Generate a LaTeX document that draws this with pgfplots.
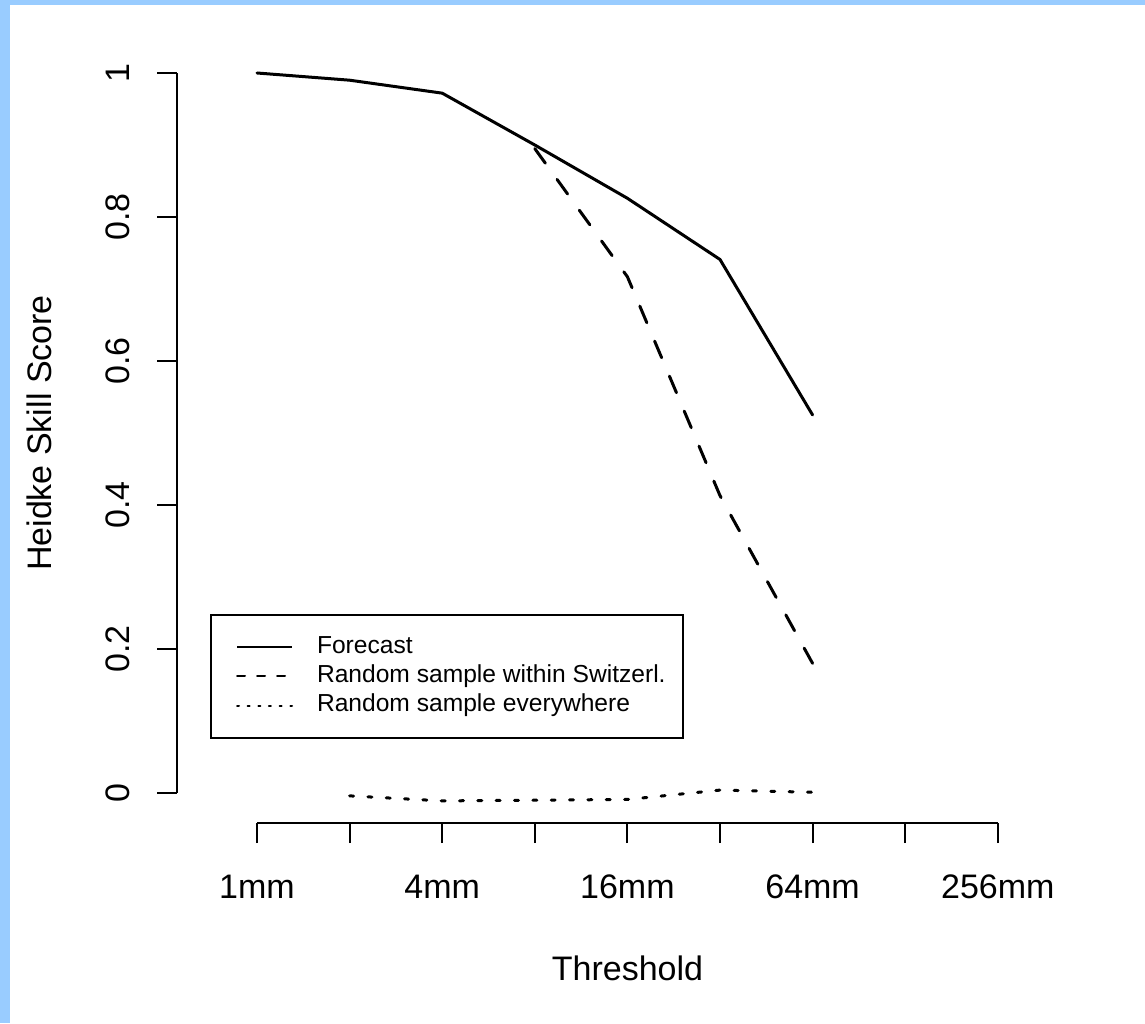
\documentclass[border=0pt]{standalone}
\usepackage{fontspec}
\setmainfont{Liberation Sans}
\usepackage{pgfplots}
\pgfplotsset{compat=1.18}
\definecolor{frameblue}{RGB}{153,204,255}

\begin{document}
\begin{tikzpicture}[x=1pt,y=1pt]
% page background with the light blue frame on the left and top
\fill[frameblue] (0,0) rectangle (572.5,511.5);
\fill[white] (5,0) rectangle (572.5,509);
\begin{axis}[
  at={(88.5pt,100pt)}, anchor=south west,
  scale only axis, width=425.3pt, height=389.4pt,
  xmin=-0.864, xmax=8.322, ymin=-0.0417, ymax=1.04,
  separate axis lines,
  x axis line style={draw=none}, y axis line style={draw=none},
  clip=false,
  tick pos=left,
  tick align=outside, major tick length=10pt,
  tick style={black, line width=1pt},
  xtick={0,...,8}, xticklabels={1mm,,4mm,,16mm,,64mm,,256mm},
  ytick={0,0.2,0.4,0.6,0.8,1}, yticklabels={0,0.2,0.4,0.6,0.8,1},
  /pgf/number format/assume math mode=true,
  ticklabel style={font=\fontsize{17}{20}\selectfont},
  xticklabel style={anchor=base, yshift=-27.5pt},
  yticklabel style={rotate=90, anchor=base, yshift=13.5pt},
  xlabel={Threshold}, ylabel={Heidke Skill Score},
  label style={font=\fontsize{17}{20}\selectfont},
  xlabel style={at={(axis description cs:0.5296,-0.2016)}, anchor=base},
  ylabel style={at={(axis description cs:-0.1481,0.5008)}, anchor=base, rotate=0},
  legend image code/.code={\path (-12.5pt,0pt) (0pt,0pt); \draw[#1] (0pt,0pt) -- (27.5pt,0pt);},
  legend cell align=left,
  legend style={at={(axis description cs:0.0388,0.2684)}, anchor=north west,
    draw=black, line width=1pt, inner xsep=0pt, inner ysep=10.4pt,
    font=\fontsize{12.3}{14}\selectfont, row sep=3.25pt, column sep=3.5pt,
    nodes={inner xsep=8.5pt, inner ysep=0pt, text height=8.8pt, text depth=2.6pt}},
]
% axis lines span only the tick range
\draw[line width=1pt] (axis cs:-0.864,0) -- (axis cs:-0.864,1);
\draw[line width=1pt] (axis cs:0,-0.0417) -- (axis cs:8,-0.0417);

\addlegendimage{black, line width=1pt}
\addlegendimage{black, line width=1pt, line cap=round, dash pattern=on 4pt off 6pt}
\addlegendimage{black, line width=1pt, line cap=round, dash pattern=on 1pt off 4.33pt}

% Forecast
\addplot[black, line width=1.5pt, line cap=round, line join=round, forget plot]
  coordinates {(0,1.000) (1,0.990) (2,0.972) (3,0.900) (4,0.826) (5,0.741) (6,0.525)};
% Random sample within Switzerland
\addplot[black, line width=1.5pt, line cap=round, line join=round, dash pattern=on 9pt off 10pt, forget plot]
  coordinates {(3,0.895) (4,0.717) (5,0.413) (6,0.180)};
% Random sample everywhere
\addplot[black, line width=1.5pt, line cap=round, line join=round, dash pattern=on 2pt off 7.17pt, forget plot]
  coordinates {(1,-0.004) (2,-0.011) (3,-0.010) (4,-0.009) (5,0.004) (6,0.001)};

\legend{Forecast, Random sample within Switzerl., Random sample everywhere}
\end{axis}
\pgfresetboundingbox
\useasboundingbox (0,0) rectangle (572.5,511.5);
\end{tikzpicture}
\end{document}
